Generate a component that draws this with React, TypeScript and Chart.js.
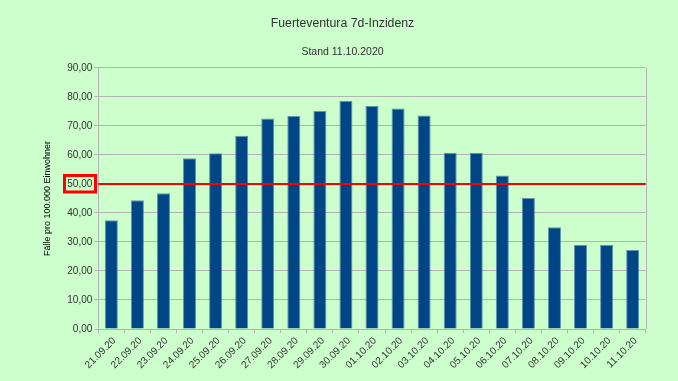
import React, { useEffect, useRef } from 'react';
import { Chart, registerables } from 'chart.js';

Chart.register(...registerables);

const categories = [
  '21.09.20', '22.09.20', '23.09.20', '24.09.20', '25.09.20', '26.09.20', '27.09.20',
  '28.09.20', '29.09.20', '30.09.20', '01.10.20', '02.10.20', '03.10.20', '04.10.20',
  '05.10.20', '06.10.20', '07.10.20', '08.10.20', '09.10.20', '10.10.20', '11.10.20',
];
const incidence = [
  37.5, 44.4, 46.8, 58.9, 60.6, 66.6, 72.6,
  73.4, 75.2, 78.6, 76.9, 76.0, 73.6, 60.7,
  60.7, 52.9, 45.2, 35.1, 29.0, 29.0, 27.2,
];
const THRESHOLD = 50;
const Y_MIN = 0;
const Y_MAX = 90;
const Y_STEP = 10;
const TITLE = 'Fuerteventura 7d-Inzidenz';
const SUBTITLE = 'Stand 11.10.2020';
const Y_TITLE = 'Fälle pro 100.000 Einwohner';

const FONT = "'Liberation Sans', Arial, sans-serif";
const GRID = '#b3b3b3';

const fmt = (v: number) => Number(v).toFixed(2).replace('.', ',');

const thresholdPlugin = {
  id: 'thresholdLine',
  afterDatasetsDraw(chart: any) {
    const { ctx, chartArea, scales } = chart;
    const y = scales.y;
    const py = y.getPixelForValue(THRESHOLD);
    ctx.save();
    // right frame line
    ctx.strokeStyle = GRID;
    ctx.lineWidth = 1;
    ctx.beginPath();
    ctx.moveTo(Math.round(chartArea.right) + 0.5, chartArea.top);
    ctx.lineTo(Math.round(chartArea.right) + 0.5, chartArea.bottom);
    ctx.stroke();
    // threshold line
    ctx.strokeStyle = '#ff0000';
    ctx.lineWidth = 2;
    ctx.beginPath();
    ctx.moveTo(chartArea.left, py);
    ctx.lineTo(chartArea.right, py);
    ctx.stroke();
    // box around threshold tick label
    ctx.lineWidth = 3;
    ctx.strokeRect(chartArea.left - 33.8, py - 8.5, 31, 16.5);
    ctx.restore();
  },
};

export default function App() {
  const ref = useRef<HTMLCanvasElement | null>(null);

  useEffect(() => {
    if (!ref.current) return;
    const chart = new Chart(ref.current, {
      type: 'bar',
      data: {
        labels: categories,
        datasets: [
          {
            data: incidence,
            backgroundColor: '#004586',
            borderColor: 'rgba(70,120,170,0.8)',
            borderWidth: 1,
            barPercentage: 0.5,
            categoryPercentage: 1,
          },
        ],
      },
      options: {
        responsive: false,
        animation: false,
        layout: { padding: { left: 39.3, right: 32.3, top: 0, bottom: 0 } },
        plugins: {
          legend: { display: false },
          tooltip: { enabled: false },
          title: {
            display: true,
            text: TITLE,
            color: '#333333',
            font: { family: FONT, size: 12.3, weight: 'normal' },
            padding: { top: 16.6, bottom: 14 },
          },
          subtitle: {
            display: true,
            text: SUBTITLE,
            color: '#333333',
            font: { family: FONT, size: 10.5, weight: 'normal' },
            padding: { top: 0, bottom: 10 },
          },
        },
        scales: {
          x: {
            grid: { drawOnChartArea: false, drawTicks: true, tickLength: 4, color: GRID, offset: true },
            border: { display: true, color: GRID },
            ticks: {
              minRotation: 45,
              maxRotation: 45,
              autoSkip: false,
              padding: 2,
              labelOffset: 3,
              color: '#333333',
              font: { family: FONT, size: 10 },
            },
            afterFit: (s: any) => { s.height = 52; },
          },
          y: {
            min: Y_MIN,
            max: Y_MAX,
            ticks: {
              stepSize: Y_STEP,
              padding: 2,
              color: '#333333',
              font: { family: FONT, size: 10 },
              callback: (v: any) => fmt(v),
            },
            grid: { color: GRID, tickLength: 4 },
            border: { display: true, color: GRID },
            title: {
              display: true,
              text: Y_TITLE,
              color: '#000000',
              font: { family: FONT, size: 9, weight: 'normal' },
              padding: { top: 2.8, bottom: 0 },
            },
            afterFit: (s: any) => { s.width = 59; },
          },
        },
      } as any,
      plugins: [thresholdPlugin],
    });
    return () => chart.destroy();
  }, []);

  return (
    <div style={{ position: 'absolute', left: 0, top: 0, width: 678, height: 381, background: '#ccffcc' }}>
      <canvas ref={ref} width={678} height={381} style={{ display: 'block' }} />
    </div>
  );
}
